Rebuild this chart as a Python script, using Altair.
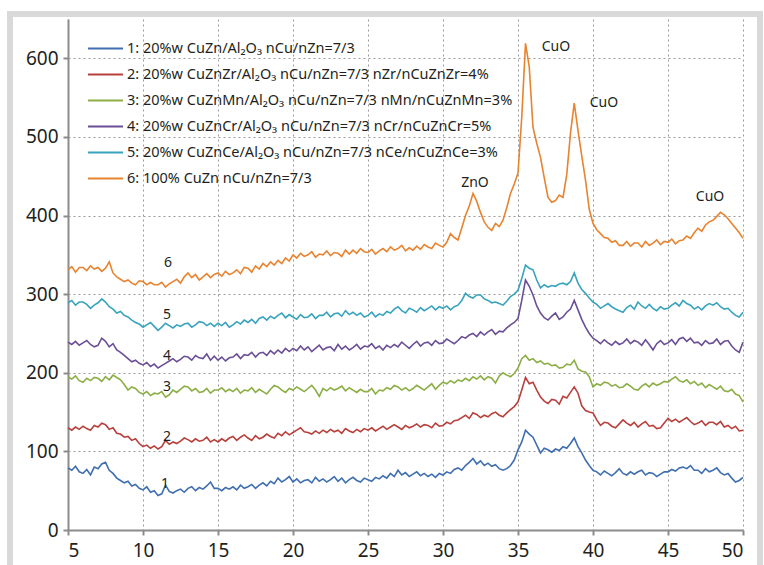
import altair as alt
import pandas as pd

# 2-theta sampling grid (degrees)
two_theta = [round(5 + 0.25 * i, 2) for i in range(181)]

s1 = [79, 76, 81, 74, 72, 77, 70, 80, 78, 84, 86, 76, 72, 66, 63, 60, 62, 56, 58, 53,
      51, 55, 48, 50, 44, 46, 57, 49, 47, 50, 52, 48, 53, 55, 50, 54, 52, 56, 61, 53,
      53, 50, 54, 52, 55, 51, 57, 53, 55, 58, 53, 57, 60, 56, 62, 59, 66, 61, 64, 68,
      61, 65, 60, 63, 64, 60, 67, 62, 65, 61, 64, 68, 62, 66, 60, 64, 67, 63, 61, 66,
      64, 62, 67, 65, 69, 66, 72, 68, 76, 70, 73, 68, 71, 74, 69, 72, 68, 71, 67, 72,
      70, 74, 72, 77, 79, 76, 82, 86, 91, 84, 88, 82, 85, 81, 83, 78, 76, 78, 82, 89,
      102, 112, 127, 122, 118, 108, 98, 104, 102, 99, 103, 101, 106, 104, 110, 117, 106, 98, 89, 82,
      76, 74, 70, 75, 72, 69, 73, 78, 72, 70, 74, 71, 74, 76, 70, 73, 72, 68, 71, 74,
      74, 77, 75, 79, 80, 78, 82, 76, 76, 72, 78, 74, 76, 79, 73, 70, 72, 66, 61, 63,
      67]

s2 = [130, 127, 131, 128, 132, 129, 127, 133, 131, 136, 134, 128, 130, 123, 122, 118, 119, 114, 116, 110,
      106, 108, 104, 107, 103, 106, 114, 109, 112, 110, 113, 117, 115, 112, 116, 113, 114, 118, 112, 115,
      112, 116, 113, 117, 119, 114, 118, 121, 117, 114, 120, 116, 118, 122, 119, 117, 123, 120, 125, 121,
      124, 127, 130, 125, 124, 122, 126, 123, 127, 124, 128, 125, 127, 123, 129, 126, 124, 128, 125, 129,
      127, 130, 126, 129, 132, 128, 131, 134, 131, 128, 133, 130, 132, 135, 131, 134, 133, 130, 136, 132,
      133, 137, 135, 139, 140, 143, 146, 142, 149, 147, 143, 146, 144, 148, 150, 146, 144, 149, 153, 157,
      163, 178, 194, 186, 188, 178, 169, 164, 161, 166, 165, 160, 170, 168, 175, 182, 174, 158, 152, 150,
      149, 140, 133, 137, 136, 132, 130, 135, 140, 136, 133, 137, 131, 135, 138, 132, 133, 129, 130, 136,
      142, 138, 141, 137, 140, 143, 138, 134, 136, 139, 133, 137, 137, 134, 138, 131, 133, 129, 132, 126,
      127]

s3 = [195, 192, 196, 190, 188, 193, 190, 194, 193, 189, 195, 191, 197, 194, 191, 185, 178, 182, 180, 175,
      173, 176, 171, 174, 173, 176, 169, 172, 178, 175, 179, 183, 182, 177, 180, 175, 176, 180, 174, 178,
      178, 181, 176, 179, 176, 180, 174, 178, 177, 181, 175, 179, 176, 173, 179, 184, 182, 178, 175, 180,
      178, 182, 179, 176, 180, 184, 178, 170, 180, 177, 181, 178, 180, 183, 177, 181, 178, 175, 179, 176,
      176, 180, 173, 178, 177, 181, 179, 184, 182, 178, 181, 177, 180, 184, 181, 178, 182, 186, 179, 184,
      188, 186, 190, 187, 191, 189, 193, 190, 195, 192, 196, 191, 195, 193, 187, 196, 200, 197, 195, 199,
      206, 218, 222, 216, 218, 213, 215, 211, 212, 209, 210, 206, 207, 211, 210, 216, 205, 202, 201, 195,
      182, 186, 184, 188, 187, 183, 185, 181, 182, 186, 183, 179, 178, 183, 186, 182, 187, 184, 186, 189,
      188, 192, 195, 190, 188, 191, 186, 189, 184, 187, 181, 185, 182, 179, 183, 177, 176, 179, 173, 171,
      163]

s4 = [239, 236, 240, 235, 238, 241, 236, 233, 235, 244, 240, 233, 237, 229, 226, 222, 218, 214, 216, 212,
      210, 213, 208, 211, 206, 209, 212, 215, 218, 214, 217, 221, 220, 216, 222, 219, 218, 224, 216, 221,
      216, 220, 215, 219, 220, 224, 218, 223, 222, 226, 220, 225, 226, 222, 228, 224, 229, 225, 231, 227,
      231, 228, 234, 229, 233, 227, 231, 235, 229, 232, 233, 228, 236, 230, 234, 229, 232, 236, 230, 234,
      233, 237, 231, 234, 229, 235, 232, 236, 233, 239, 235, 231, 236, 240, 234, 238, 239, 235, 241, 237,
      238, 243, 240, 237, 241, 246, 244, 248, 250, 246, 252, 248, 252, 255, 249, 253, 252, 257, 261, 264,
      269, 292, 318, 310, 299, 285, 276, 270, 267, 272, 276, 268, 271, 277, 281, 292, 280, 268, 258, 250,
      244, 241, 237, 242, 238, 235, 240, 236, 238, 243, 237, 241, 239, 235, 242, 236, 229, 237, 241, 236,
      238, 242, 236, 243, 245, 240, 244, 238, 239, 235, 241, 237, 238, 243, 236, 240, 241, 234, 229, 226,
      239]

s5 = [289, 292, 286, 290, 290, 287, 282, 286, 289, 294, 290, 284, 281, 276, 278, 273, 271, 267, 264, 262,
      258, 261, 264, 259, 254, 258, 263, 260, 257, 261, 259, 262, 263, 258, 261, 265, 264, 260, 263, 259,
      263, 260, 264, 258, 261, 265, 262, 267, 264, 268, 263, 269, 271, 267, 272, 269, 273, 276, 270, 274,
      271, 268, 274, 270, 271, 275, 269, 273, 273, 277, 271, 275, 276, 272, 279, 274, 277, 273, 276, 271,
      273, 277, 271, 275, 273, 278, 276, 281, 284, 279, 276, 282, 280, 277, 283, 279, 282, 285, 280, 284,
      282, 285, 280, 284, 286, 292, 301, 297, 295, 299, 299, 294, 292, 289, 290, 288, 286, 291, 297, 300,
      305, 320, 337, 333, 331, 318, 308, 312, 309, 311, 310, 313, 314, 312, 316, 327, 314, 306, 301, 295,
      290, 287, 282, 285, 288, 284, 281, 279, 277, 283, 286, 281, 290, 285, 282, 287, 282, 279, 284, 281,
      282, 286, 289, 285, 292, 288, 286, 281, 284, 280, 285, 288, 286, 289, 284, 281, 282, 277, 273, 271,
      277]

s6 = [331, 335, 328, 334, 334, 330, 336, 332, 334, 329, 333, 341, 327, 322, 319, 316, 318, 314, 312, 317,
      316, 312, 315, 312, 312, 315, 309, 313, 316, 319, 314, 322, 327, 321, 325, 318, 322, 326, 321, 325,
      327, 323, 329, 325, 327, 331, 326, 334, 333, 328, 336, 332, 339, 335, 341, 337, 343, 339, 346, 342,
      350, 346, 352, 348, 350, 354, 347, 351, 350, 355, 349, 353, 352, 348, 356, 351, 356, 352, 358, 354,
      353, 357, 351, 355, 358, 354, 360, 356, 358, 362, 355, 359, 356, 361, 357, 363, 360, 358, 365, 362,
      360, 366, 377, 372, 369, 384, 400, 412, 428, 418, 404, 392, 385, 381, 390, 386, 394, 410, 428, 440,
      454, 525, 619, 589, 512, 492, 474, 448, 423, 417, 419, 426, 423, 452, 505, 543, 508, 476, 445, 408,
      390, 382, 377, 372, 371, 366, 368, 362, 362, 367, 361, 365, 365, 360, 367, 362, 365, 369, 363, 367,
      366, 370, 364, 368, 369, 374, 371, 378, 384, 380, 388, 392, 394, 399, 404, 401, 396, 390, 384, 378,
      371]

names = [
    "1: 20%w CuZn/Al₂O₃ nCu/nZn=7/3",
    "2: 20%w CuZnZr/Al₂O₃ nCu/nZn=7/3 nZr/nCuZnZr=4%",
    "3: 20%w CuZnMn/Al₂O₃ nCu/nZn=7/3 nMn/nCuZnMn=3%",
    "4: 20%w CuZnCr/Al₂O₃ nCu/nZn=7/3 nCr/nCuZnCr=5%",
    "5: 20%w CuZnCe/Al₂O₃ nCu/nZn=7/3 nCe/nCuZnCe=3%",
    "6: 100% CuZn nCu/nZn=7/3",
]
colors = ["#3f6fb0", "#b8403c", "#8cae45", "#6a4f96", "#38a3bd", "#e8832f"]

# curve labels and peak annotations
ann_text = ["1", "2", "3", "4", "5", "6", "ZnO", "CuO", "CuO", "CuO"]
ann_x = [11.47, 11.6, 11.6, 11.6, 11.6, 11.67, 32.13, 37.53, 40.73, 47.8]
ann_y = [58, 118, 182, 221, 273, 339, 441, 614, 543, 423]

series = [s1, s2, s3, s4, s5, s6]
for s in series:
    assert len(s) == len(two_theta)

rows = []
for name, ser in zip(names, series):
    for xv, yv in zip(two_theta, ser):
        rows.append({"x": xv, "y": yv, "series": name})
df = pd.DataFrame(rows)
ann = pd.DataFrame({"t": ann_text, "x": ann_x, "y": ann_y})

FONT = "Noto Sans"
xscale = alt.Scale(domain=[5, 50], nice=False, zero=False)
yscale = alt.Scale(domain=[0, 650], nice=False)

lines = alt.Chart(df).mark_line(strokeWidth=1.6).encode(
    x=alt.X("x:Q", scale=xscale, title=None,
            axis=alt.Axis(values=list(range(5, 51, 5)), format="d")),
    y=alt.Y("y:Q", scale=yscale, title=None,
            axis=alt.Axis(values=list(range(0, 601, 100)), format="d")),
    color=alt.Color("series:N", scale=alt.Scale(domain=names, range=colors),
                    legend=alt.Legend(title=None, orient="none", legendX=19, legendY=11,
                                      symbolType="stroke", symbolSize=1225,
                                      symbolStrokeWidth=2, labelFontSize=14.5,
                                      labelFont=FONT, labelColor="#231f20",
                                      labelLimit=0, rowPadding=1, labelOffset=3)),
    order="x:Q",
)

labels = alt.Chart(ann).mark_text(font=FONT, fontSize=14, color="#231f20").encode(
    x=alt.X("x:Q", scale=xscale),
    y=alt.Y("y:Q", scale=yscale),
    text="t:N",
)

frame = alt.Chart(pd.DataFrame({"a": [0]})).mark_rect(
    filled=False, stroke="#d9d9d9", strokeWidth=6, clip=False
).encode(x=alt.value(-58), x2=alt.value(692), y=alt.value(-5), y2=alt.value(560))

chart = alt.layer(frame, lines, labels).properties(
    width=675, height=511,
    autosize=alt.AutoSizeParams(type="none"),
    padding={"left": 68, "top": 19, "right": 21, "bottom": 35},
    background="white",
).configure_view(stroke=None).configure_axis(
    grid=True, gridColor="#9a9a9a", gridDash=[2, 3], gridWidth=1,
    domainColor="#8c8c8c", domainWidth=2, tickColor="#8c8c8c", tickWidth=2, tickSize=5,
    labelFont=FONT, labelFontSize=19, labelColor="#231f20",
).configure_axisY(labelPadding=5).configure_axisX(labelPadding=6)

chart.save("out.html", embed_options={"renderer": "svg", "actions": False})
